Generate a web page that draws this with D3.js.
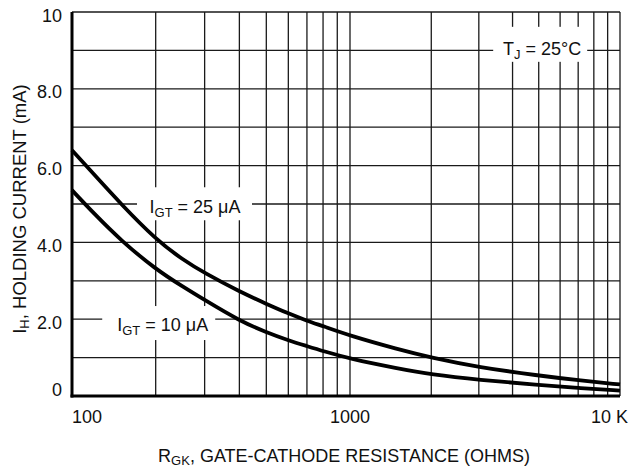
<!DOCTYPE html>
<html><head><meta charset="utf-8">
<script src="https://cdn.jsdelivr.net/npm/d3@7/dist/d3.min.js"></script>
<style>
html,body{margin:0;padding:0;background:#fff;}
svg text{font-family:"Liberation Sans Narrow","Arial Narrow","Liberation Sans",Arial,sans-serif;fill:#111;}
</style>
</head><body>
<svg id="chart" width="639" height="470"></svg>
<script>
// ---- data ----
const resistance25 = [100, 120, 150, 200, 250, 300, 400, 500, 600, 700, 800, 1000, 1500, 2000, 3000, 5000, 7000, 10000];
const current25    = [6.40, 5.77, 5.00, 4.08, 3.55, 3.20, 2.72, 2.40, 2.15, 1.96, 1.82, 1.57, 1.22, 1.00, 0.75, 0.53, 0.41, 0.30];
const resistance10 = [100, 120, 150, 200, 250, 300, 400, 500, 600, 700, 800, 1000, 1500, 2000, 3000, 5000, 7000, 10000];
const current10    = [5.36, 4.75, 4.05, 3.30, 2.85, 2.50, 1.96, 1.66, 1.45, 1.30, 1.17, 0.97, 0.72, 0.56, 0.42, 0.29, 0.21, 0.14];
const xGrid = [200, 300, 400, 500, 600, 700, 800, 900, 1000, 2000, 3000, 4000, 5000, 6000, 7000, 8000, 9000, 10000];
const yGrid = [1, 2, 3, 4, 5, 6, 7, 8, 9, 10];
const yTickValues = [0, 2, 4, 6, 8, 10];
const yTickLabels = ["0", "2.0", "4.0", "6.0", "8.0", "10"];
const xTickValues = [100, 1000, 10000];
const xTickLabels = ["100", "1000", "10 K"];

const svg = d3.select("#chart");
const x = d3.scaleLog().domain([100, 1000, 10000]).range([72, 350, 620]);
const y = d3.scaleLinear().domain([0, 10]).range([396, 12]);

// grid
const grid = svg.append("g").attr("stroke", "#1a1a1a").attr("stroke-width", 1.3);
grid.selectAll("line.v").data(xGrid).join("line")
  .attr("x1", d => x(d)).attr("x2", d => x(d)).attr("y1", y(0)).attr("y2", y(10));
grid.selectAll("line.h").data(yGrid).join("line")
  .attr("x1", x(100)).attr("x2", x(10000)).attr("y1", d => y(d)).attr("y2", d => y(d));

// annotation boxes (white knock-outs)
const ann = [
  {r: 277, v: 4.98, bx: -0.5, by: -1, w: 115, h: 33, main: "I", sub: "GT", rest: " = 25 μA"},
  {r: 212, v: 1.90, bx: -4, by: 0, w: 113, h: 34, main: "I", sub: "GT", rest: " = 10 μA"},
  {r: 5150, v: 9.08, bx: -2, by: -3, w: 94, h: 35, main: "T", sub: "J", rest: " = 25°C"}
];
svg.append("g").selectAll("rect").data(ann).join("rect")
  .attr("x", d => x(d.r) + d.bx - d.w / 2).attr("y", d => y(d.v) + d.by - d.h / 2)
  .attr("width", d => d.w).attr("height", d => d.h).attr("fill", "#fff");

// axes (thick left & bottom)
svg.append("line").attr("x1", x(100)).attr("x2", x(100)).attr("y1", y(10)).attr("y2", y(0) + 1.5)
  .attr("stroke", "#000").attr("stroke-width", 3);
svg.append("line").attr("x1", x(100) - 1.5).attr("x2", x(10000)).attr("y1", y(0)).attr("y2", y(0))
  .attr("stroke", "#000").attr("stroke-width", 3);

// curves
const line = d3.line().x(d => x(d[0])).y(d => y(d[1])).curve(d3.curveBasis);
[[resistance25, current25], [resistance10, current10]].forEach(([rs, cs]) => {
  svg.append("path").datum(rs.map((r, i) => [r, cs[i]]))
    .attr("d", line).attr("fill", "none").attr("stroke", "#000").attr("stroke-width", 3.8)
    .attr("stroke-linejoin", "round");
});

// annotation text
ann.forEach(d => {
  const t = svg.append("text").attr("x", x(d.r)).attr("y", y(d.v) + 8)
    .attr("text-anchor", "middle").attr("font-size", 18);
  t.append("tspan").text(d.main);
  t.append("tspan").attr("font-size", 13).attr("dy", 4).text(d.sub);
  t.append("tspan").attr("dy", -4).text(d.rest);
});

// y tick labels
svg.append("g").selectAll("text").data(yTickValues).join("text")
  .attr("x", 62).attr("y", d => d === 0 ? y(d) - 0.5 : y(d) + 9.5)
  .attr("text-anchor", "end").attr("font-size", 18)
  .text((d, i) => yTickLabels[i]);

// x tick labels
svg.append("g").selectAll("text").data(xTickValues).join("text")
  .attr("x", (d, i) => i === 2 ? x(d) + 8 : x(d))
  .attr("y", 423)
  .attr("text-anchor", (d, i) => i === 0 ? "start" : i === 2 ? "end" : "middle")
  .attr("font-size", 18)
  .text((d, i) => xTickLabels[i]);

// x title
const xt = svg.append("text").attr("x", 344).attr("y", 462).attr("text-anchor", "middle").attr("font-size", 18);
xt.append("tspan").text("R");
xt.append("tspan").attr("font-size", 13).attr("dy", 3).text("GK");
xt.append("tspan").attr("dy", -3).text(", GATE-CATHODE RESISTANCE (OHMS)");

// y title
const yt = svg.append("text").attr("transform", "translate(26,209) rotate(-90)")
  .attr("text-anchor", "middle").attr("font-size", 18.5);
yt.append("tspan").text("I");
yt.append("tspan").attr("font-size", 13).attr("dy", 3).text("H");
yt.append("tspan").attr("dy", -3).text(", HOLDING CURRENT (mA)");
</script>
</body></html>
